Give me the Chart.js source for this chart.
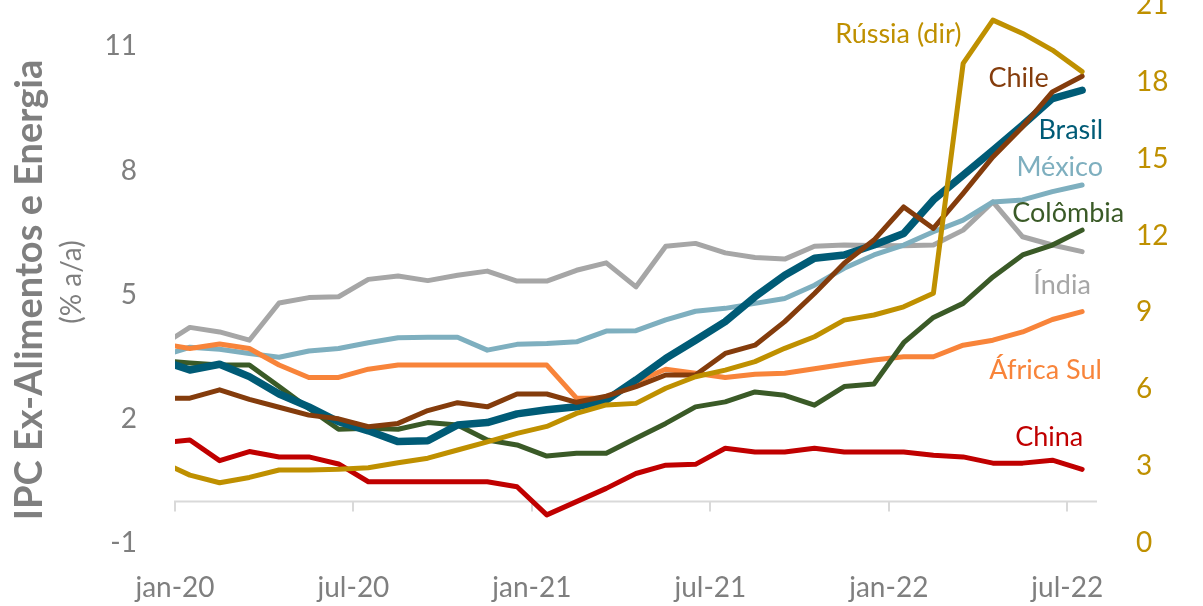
<!DOCTYPE html>
<html lang="pt">
<head>
<meta charset="utf-8">
<title>IPC Ex-Alimentos e Energia</title>
<script src="https://cdn.jsdelivr.net/npm/chart.js@4.4.1/dist/chart.umd.min.js"></script>
<style>
    html, body { margin: 0; padding: 0; background: #ffffff; }
    #wrap { width: 1203px; height: 606px; }
</style>
</head>
<body>
<div id="wrap"><canvas id="coreChart" width="1203" height="606"></canvas></div>
<script>
// Months (monthly points, plotted mid-month; dez-19 is clipped at the left edge)
const months = ['dez-19',
    'jan-20', 'fev-20', 'mar-20', 'abr-20', 'mai-20', 'jun-20', 'jul-20', 'ago-20', 'set-20', 'out-20', 'nov-20', 'dez-20',
    'jan-21', 'fev-21', 'mar-21', 'abr-21', 'mai-21', 'jun-21', 'jul-21', 'ago-21', 'set-21', 'out-21', 'nov-21', 'dez-21',
    'jan-22', 'fev-22', 'mar-22', 'abr-22', 'mai-22', 'jun-22', 'jul-22'];

const xTickLabels = ['jan-20', 'jul-20', 'jan-21', 'jul-21', 'jan-22', 'jul-22'];
const leftTicks = [-1, 2, 5, 8, 11];
const rightTicks = [0, 3, 6, 9, 12, 15, 18, 21];

// % a/a, left axis
const india = [3.75, 4.21, 4.10, 3.90, 4.80, 4.93, 4.95, 5.37, 5.45, 5.34, 5.47, 5.57, 5.33,
    5.33, 5.59, 5.77, 5.19, 6.17, 6.24, 6.01, 5.90, 5.86, 6.17, 6.20, 6.19,
    6.18, 6.20, 6.56, 7.24, 6.40, 6.20, 6.04];
const mexico = [3.51, 3.73, 3.68, 3.58, 3.49, 3.64, 3.70, 3.84, 3.96, 3.97, 3.97, 3.66, 3.80,
    3.82, 3.86, 4.12, 4.13, 4.39, 4.60, 4.67, 4.79, 4.91, 5.23, 5.64, 5.96,
    6.20, 6.52, 6.80, 7.24, 7.29, 7.49, 7.65];
const africaSul = [3.82, 3.70, 3.81, 3.70, 3.30, 3.00, 3.00, 3.20, 3.30, 3.30, 3.30, 3.30, 3.30,
    3.30, 2.50, 2.50, 2.90, 3.20, 3.10, 3.00, 3.08, 3.10, 3.21, 3.32, 3.42,
    3.50, 3.50, 3.78, 3.90, 4.10, 4.40, 4.59];
const colombia = [3.41, 3.35, 3.30, 3.30, 2.78, 2.25, 1.75, 1.77, 1.75, 1.91, 1.85, 1.49, 1.37,
    1.10, 1.17, 1.17, 1.53, 1.89, 2.29, 2.41, 2.65, 2.57, 2.33, 2.78, 2.84,
    3.84, 4.45, 4.79, 5.43, 5.96, 6.20, 6.56];
const brasil = [3.42, 3.18, 3.32, 3.02, 2.60, 2.29, 1.93, 1.71, 1.45, 1.47, 1.85, 1.91, 2.12,
    2.22, 2.29, 2.45, 2.94, 3.46, 3.90, 4.35, 4.95, 5.47, 5.88, 5.96, 6.20,
    6.48, 7.29, 7.89, 8.49, 9.10, 9.74, 9.94];
const chile = [2.50, 2.50, 2.70, 2.47, 2.28, 2.09, 2.00, 1.81, 1.89, 2.20, 2.39, 2.29, 2.60,
    2.60, 2.40, 2.55, 2.78, 3.06, 3.06, 3.58, 3.78, 4.35, 5.03, 5.76, 6.32,
    7.12, 6.60, 7.45, 8.33, 9.06, 9.90, 10.28];
const china = [1.41, 1.49, 0.99, 1.21, 1.08, 1.08, 0.91, 0.48, 0.48, 0.48, 0.48, 0.48, 0.36,
    -0.32, 0.00, 0.32, 0.68, 0.88, 0.90, 1.29, 1.20, 1.20, 1.29, 1.20, 1.20,
    1.20, 1.12, 1.08, 0.93, 0.93, 1.00, 0.78];
// % a/a, right axis
const russia = [3.19, 2.65, 2.35, 2.56, 2.85, 2.85, 2.88, 2.94, 3.13, 3.31, 3.63, 3.95, 4.28,
    4.55, 5.06, 5.39, 5.45, 6.04, 6.49, 6.75, 7.08, 7.60, 8.05, 8.70, 8.90,
    9.22, 9.75, 18.72, 20.41, 19.89, 19.24, 18.40];

const GRAY = '#7f7f7f';
const GOLD = '#bf9000';
const FONT = 'Lato';

// Series drawn top-first (Chart.js paints index 0 last)
const series = [
    { name: 'Rússia (dir)', values: russia, color: GOLD, width: 5, axis: 'y2' },
    { name: 'China', values: china, color: '#c00000', width: 5, axis: 'y' },
    { name: 'Chile', values: chile, color: '#843c0c', width: 5, axis: 'y' },
    { name: 'Brasil', values: brasil, color: '#005b76', width: 7.5, axis: 'y' },
    { name: 'Colômbia', values: colombia, color: '#3a5a27', width: 5, axis: 'y' },
    { name: 'África Sul', values: africaSul, color: '#f8843a', width: 5, axis: 'y' },
    { name: 'México', values: mexico, color: '#7eafbf', width: 5, axis: 'y' },
    { name: 'Índia', values: india, color: '#a6a6a6', width: 5, axis: 'y' }
];

// Where the series names sit (left edge, baseline) in axis units: month, left-axis value
const labelSpots = {
    'Rússia (dir)': [22.2, 11.08],
    'Chile': [27.35, 10.01],
    'Brasil': [29.03, 8.76],
    'México': [28.29, 7.86],
    'Colômbia': [28.15, 6.75],
    'Índia': [28.86, 5.01],
    'África Sul': [27.38, 2.96],
    'China': [28.25, 1.34]
};

document.addEventListener('DOMContentLoaded', () => {
    const ctx = document.getElementById('coreChart').getContext('2d');

    const datasets = series.map(s => ({
        label: s.name,
        data: s.values.map((v, i) => ({ x: i - 0.5, y: v })),
        yAxisID: s.axis,
        borderColor: s.color,
        borderWidth: s.width,
        borderJoinStyle: 'round',
        borderCapStyle: 'round',
        pointRadius: 0,
        tension: 0,
        fill: false,
        clip: { left: 0, right: 0, top: false, bottom: false }
    }));

    // Horizontal axis line at zero, with tick marks hanging below it
    const zeroLine = {
        id: 'zeroLine',
        beforeDatasetsDraw(chart) {
            const { ctx, chartArea, scales } = chart;
            const yy = scales.y.getPixelForValue(0);
            ctx.save();
            ctx.strokeStyle = '#d9d9d9';
            ctx.lineWidth = 2;
            ctx.beginPath();
            ctx.moveTo(chartArea.left, yy);
            ctx.lineTo(chartArea.right, yy);
            scales.x.ticks.forEach(t => {
                const px = Math.round(scales.x.getPixelForValue(t.value));
                ctx.moveTo(px, yy - 1);
                ctx.lineTo(px, yy + 10);
            });
            ctx.stroke();
            ctx.restore();
        }
    };

    // Axis title and series names
    const annotations = {
        id: 'annotations',
        afterDraw(chart) {
            const { ctx, scales } = chart;
            ctx.save();
            ctx.translate(42, 290);
            ctx.rotate(-Math.PI / 2);
            ctx.textAlign = 'center';
            ctx.textBaseline = 'alphabetic';
            ctx.fillStyle = GRAY;
            ctx.font = `bold 38px ${FONT}`;
            ctx.fillText('IPC Ex-Alimentos e Energia', 0, 0);
            ctx.restore();

            ctx.save();
            ctx.translate(81, 282);
            ctx.rotate(-Math.PI / 2);
            ctx.textAlign = 'center';
            ctx.textBaseline = 'alphabetic';
            ctx.fillStyle = GRAY;
            ctx.font = `28px ${FONT}`;
            ctx.fillText('(% a/a)', 0, 0);
            ctx.restore();

            ctx.save();
            ctx.font = `27px ${FONT}`;
            ctx.textAlign = 'left';
            ctx.textBaseline = 'alphabetic';
            series.forEach(s => {
                const spot = labelSpots[s.name];
                ctx.fillStyle = s.color;
                ctx.fillText(s.name, scales.x.getPixelForValue(spot[0]), scales.y.getPixelForValue(spot[1]));
            });
            ctx.restore();
        }
    };

    new Chart(ctx, {
        type: 'line',
        data: { datasets: datasets },
        options: {
            responsive: false,
            animation: false,
            devicePixelRatio: 1,
            layout: { padding: { top: 5, left: 0, right: 0, bottom: 0 } },
            plugins: {
                legend: { display: false },
                tooltip: { enabled: false }
            },
            scales: {
                x: {
                    type: 'linear',
                    min: 0,
                    max: months.length - 1,
                    grid: { display: false },
                    border: { display: false },
                    afterBuildTicks: scale => {
                        scale.ticks = xTickLabels.map(l => ({ value: months.indexOf(l) - 1 }));
                    },
                    ticks: {
                        color: GRAY,
                        padding: 20,
                        autoSkip: false,
                        maxRotation: 0,
                        font: { family: FONT, size: 28 },
                        callback: v => months[v + 1]
                    },
                    afterFit: scale => {
                        scale.height = 63;
                        scale.paddingLeft = 0;
                        scale.paddingRight = 0;
                    }
                },
                y: {
                    position: 'left',
                    min: -1,
                    max: 12,
                    grid: { display: false },
                    border: { display: false },
                    afterBuildTicks: scale => {
                        scale.ticks = leftTicks.map(v => ({ value: v }));
                    },
                    ticks: {
                        color: GRAY,
                        padding: 30,
                        font: { family: FONT, size: 28 }
                    },
                    afterFit: scale => {
                        scale.width = 175;
                        scale.paddingTop = 0;
                        scale.paddingBottom = 0;
                    }
                },
                y2: {
                    position: 'right',
                    min: 0,
                    max: 21,
                    grid: { display: false },
                    border: { display: false },
                    afterBuildTicks: scale => {
                        scale.ticks = rightTicks.map(v => ({ value: v }));
                    },
                    ticks: {
                        color: GOLD,
                        padding: 31,
                        font: { family: FONT, size: 28 }
                    },
                    afterFit: scale => {
                        scale.width = 106;
                        scale.paddingTop = 0;
                        scale.paddingBottom = 0;
                    }
                }
            }
        },
        plugins: [zeroLine, annotations]
    });
});
</script>
</body>
</html>
